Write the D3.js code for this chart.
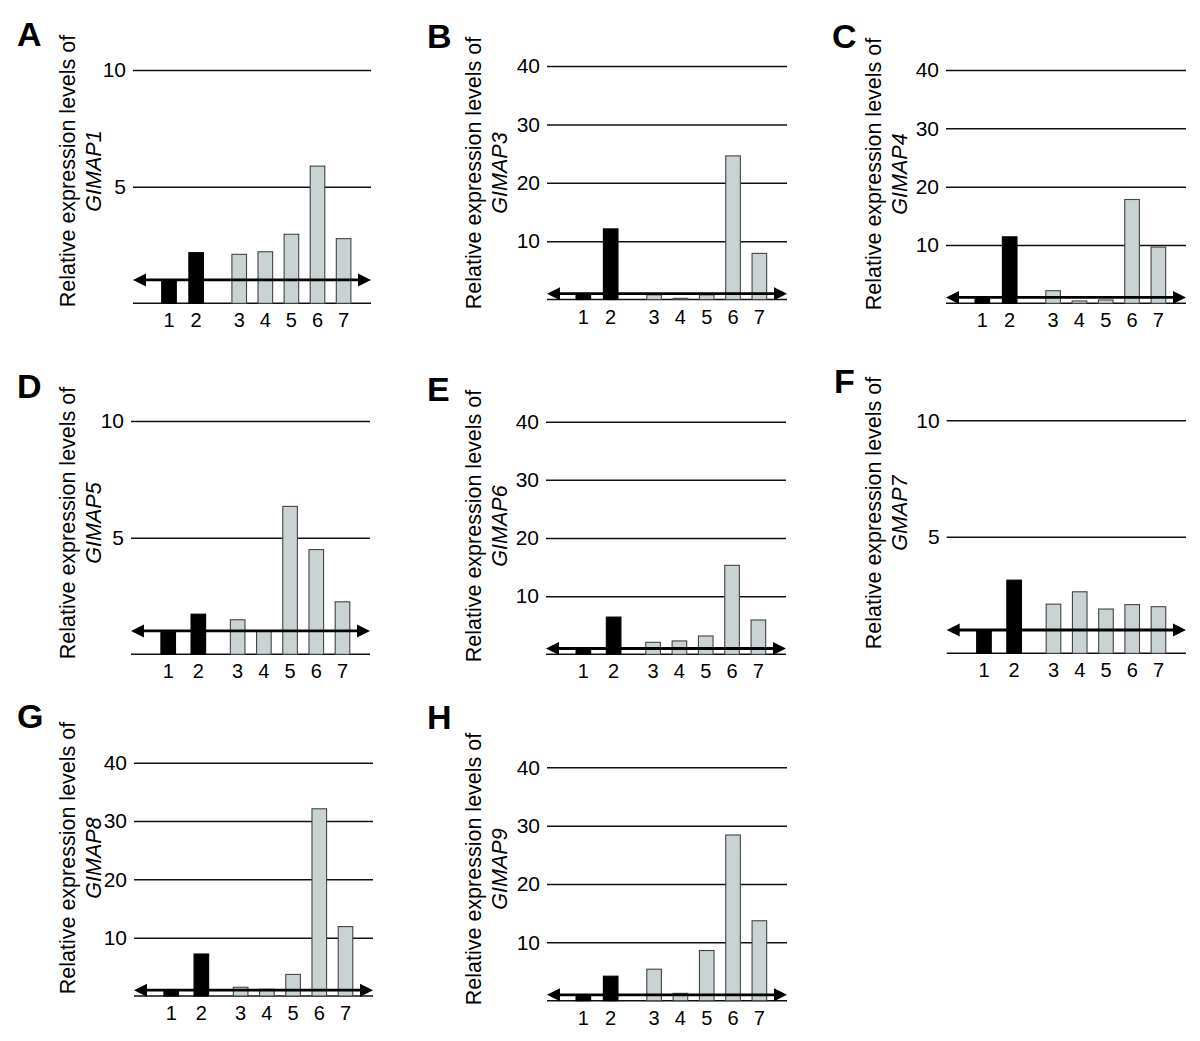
<!DOCTYPE html>
<html>
<head>
<meta charset="utf-8">
<script src="https://cdn.jsdelivr.net/npm/d3@7"></script>
<style>
  html, body { margin: 0; padding: 0; background: #fff; }
  svg { display: block; font-family: Arial, "Liberation Sans", Helvetica, sans-serif; }
</style>
</head>
<body>
<svg id="chart" width="1200" height="1041"></svg>
<script>
// ---------------- data ----------------
const panelLetters = ["A", "B", "C", "D", "E", "F", "G", "H"];
const geneNames = ["GIMAP1", "GIMAP3", "GIMAP4", "GIMAP5", "GIMAP6", "GMAP7", "GIMAP8", "GIMAP9"];
const sampleLabels = ["1", "2", "3", "4", "5", "6", "7"];
const sampleGroup = ["dark", "dark", "light", "light", "light", "light", "light"];

const gimap1 = [1.0, 2.17, 2.1, 2.21, 2.96, 5.88, 2.77];
const gimap3 = [0.9, 12.1, 0.8, 0.2, 0.8, 24.6, 7.9];
const gimap4 = [1.0, 11.4, 2.16, 0.4, 0.57, 17.8, 9.64];
const gimap5 = [1.0, 1.72, 1.48, 1.0, 6.34, 4.49, 2.25];
const gimap6 = [0.9, 6.4, 2.06, 2.3, 3.15, 15.3, 5.9];
const gmap7  = [1.0, 3.14, 2.11, 2.64, 1.9, 2.09, 2.0];
const gimap8 = [0.9, 7.2, 1.5, 1.15, 3.7, 32.1, 11.9];
const gimap9 = [0.9, 4.2, 5.4, 1.26, 8.6, 28.4, 13.7];

const ticks10 = [5, 10];
const ticks40 = [10, 20, 30, 40];
const referenceLevel = 1;

const seriesList = [gimap1, gimap3, gimap4, gimap5, gimap6, gmap7, gimap8, gimap9];
const tickList = [ticks10, ticks40, ticks40, ticks10, ticks40, ticks10, ticks40, ticks40];

// ---------------- layout ----------------
const layout = [
  { x0: 133,   x1: 371,  yTop: 70,    y0: 303.3,  lx: 17,  ly: 46,  tx: 101, ty: 171, pair: 0 },
  { x0: 547,   x1: 787,  yTop: 66,    y0: 299.5,  lx: 427, ly: 48,  tx: 507, ty: 173, pair: 0 },
  { x0: 946,   x1: 1186, yTop: 70,    y0: 303.3,  lx: 832, ly: 48,  tx: 907, ty: 174, pair: 0 },
  { x0: 131,   x1: 370,  yTop: 421,   y0: 654.3,  lx: 17,  ly: 398, tx: 101, ty: 523, pair: 1 },
  { x0: 546,   x1: 786,  yTop: 421.7, y0: 654.3,  lx: 427, ly: 401, tx: 507, ty: 526, pair: 1 },
  { x0: 946.7, x1: 1186, yTop: 420.3, y0: 653.3,  lx: 834, ly: 393, tx: 907, ty: 513, pair: 1 },
  { x0: 134,   x1: 373,  yTop: 762.7, y0: 996,    lx: 17,  ly: 728, tx: 101, ty: 858, pair: 1 },
  { x0: 547,   x1: 787,  yTop: 767.3, y0: 1000.7, lx: 427, ly: 729, tx: 507, ty: 869, pair: 0 }
];
// slot positions of the seven bars along the axis (units)
const slotsNarrow = [1.38, 2.42, 4.07, 5.07, 6.07, 7.07, 8.07];
const slotsWide   = [1.42, 2.57, 4.07, 5.07, 6.07, 7.07, 8.07];
const barWidth = 14.6;
const colorDark = "#000000";
const colorLight = "#c9d3d3";

const svg = d3.select("#chart");

seriesList.forEach((values, i) => {
  const L = layout[i];
  const ticks = tickList[i];
  const yMax = ticks[ticks.length - 1];
  const g = svg.append("g");

  const y = d3.scaleLinear().domain([0, yMax]).range([L.y0, L.yTop]);
  const x = d3.scaleLinear().domain([0, 9.12]).range([L.x0, L.x1]);
  const slots = L.pair ? slotsWide : slotsNarrow;
  const pos = d3.scaleOrdinal().domain(sampleLabels).range(slots.map(s => x(s)));

  // grid lines + tick labels via axis
  const axis = d3.axisLeft(y).tickValues(ticks).tickSize(-(L.x1 - L.x0)).tickPadding(7).tickFormat(d3.format("d"));
  const ag = g.append("g").attr("transform", `translate(${L.x0},0)`).call(axis);
  ag.select(".domain").remove();
  ag.selectAll(".tick line").attr("stroke", "#111").attr("stroke-width", 1.5);
  ag.selectAll(".tick text").attr("font-size", 21).attr("fill", "#000")
    .attr("font-family", "Arial, 'Liberation Sans', sans-serif");

  // baseline
  g.append("line").attr("x1", L.x0).attr("x2", L.x1)
    .attr("y1", y(0)).attr("y2", y(0)).attr("stroke", "#111").attr("stroke-width", 1.5);

  // bars
  g.selectAll("rect.bar").data(values).enter().append("rect")
    .attr("class", "bar")
    .attr("x", (d, j) => pos(sampleLabels[j]) - barWidth / 2)
    .attr("width", barWidth)
    .attr("y", d => y(d))
    .attr("height", d => y(0) - y(d))
    .attr("fill", (d, j) => sampleGroup[j] === "dark" ? colorDark : colorLight)
    .attr("stroke", (d, j) => sampleGroup[j] === "dark" ? colorDark : "#444")
    .attr("stroke-width", 1.1);

  // double-headed reference arrow at level 1
  const ay = y(referenceLevel);
  const head = 13, hh = 6.5;
  g.append("line").attr("x1", L.x0 + head - 1).attr("x2", L.x1 - head + 1)
    .attr("y1", ay).attr("y2", ay).attr("stroke", "#000").attr("stroke-width", 2.8);
  g.append("path").attr("d", `M${L.x0},${ay} L${L.x0 + head},${ay - hh} L${L.x0 + head},${ay + hh} Z`).attr("fill", "#000");
  g.append("path").attr("d", `M${L.x1},${ay} L${L.x1 - head},${ay - hh} L${L.x1 - head},${ay + hh} Z`).attr("fill", "#000");

  // category labels
  g.selectAll("text.cat").data(sampleLabels).enter().append("text")
    .attr("class", "cat")
    .attr("x", d => pos(d))
    .attr("y", L.y0 + 24)
    .attr("text-anchor", "middle")
    .attr("font-size", 20)
    .text(d => d);

  // y title (two lines, rotated)
  const t = g.append("text")
    .attr("transform", `translate(${L.tx},${L.ty}) rotate(-90)`)
    .attr("text-anchor", "middle")
    .attr("font-size", 21.5);
  t.append("tspan").attr("x", 0).attr("y", -26).text("Relative expression levels of");
  t.append("tspan").attr("x", 0).attr("y", 0).attr("font-style", "italic").text(geneNames[i]);

  // panel letter
  g.append("text").attr("x", L.lx).attr("y", L.ly)
    .attr("font-size", 34).attr("font-weight", "bold").text(panelLetters[i]);
});
</script>
</body>
</html>
